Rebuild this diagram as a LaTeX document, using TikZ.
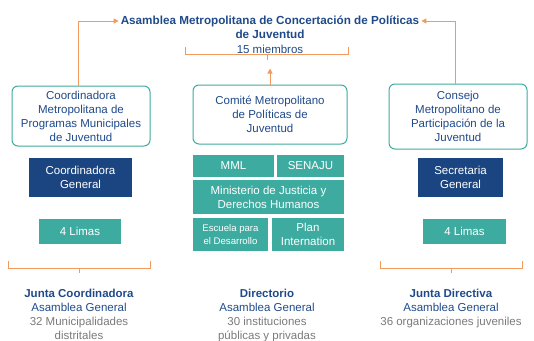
\documentclass[tikz,border=0pt]{standalone}
\usepackage{fontspec}
\setmainfont{Liberation Sans}
\usetikzlibrary{arrows.meta}
\definecolor{tealc}{HTML}{3DAB9F}
\definecolor{dblue}{HTML}{1B4580}
\definecolor{txtblue}{HTML}{1F4A8A}
\definecolor{orangec}{HTML}{F29A5E}
\definecolor{grayc}{HTML}{7A7A7A}
\begin{document}
\begin{tikzpicture}[x=1pt,y=-1pt,
  base/.style={inner sep=0pt, align=center, font=\fontsize{11.5}{14}\selectfont},
  outline/.style={base, draw=tealc, line width=1pt, rounded corners=6pt, fill=white, text=txtblue},
  darkbox/.style={base, fill=dblue, text=white},
  tealbox/.style={base, fill=tealc, text=white},
  oline/.style={draw=orangec, line width=1pt},
  arr/.style={oline, -{Triangle[length=5pt,width=5pt]}},
  lbl/.style={inner sep=0pt, align=center, text=txtblue, font=\fontsize{11.5}{14.3}\selectfont}
]
\useasboundingbox (0,0) rectangle (534,340);

% top title
\node[lbl, inner sep=2pt, font=\bfseries\fontsize{11.7}{14}\selectfont] (title1) at (270,21) {Asamblea Metropolitana de Concertación de Políticas};
\node[lbl, font=\bfseries\fontsize{11.7}{14}\selectfont] (title2) at (270,34) {de Juventud};
\node[lbl] (title3) at (270,49) {15 miembros};

% three main boxes
\node[outline, minimum width=138pt, minimum height=60pt] (left) at (81,116)
  {Coordinadora\\Metropolitana de\\Programas Municipales\\de Juventud};
\node[outline, minimum width=154pt, minimum height=59pt] (center) at (270,114.5)
  {Comité Metropolitano\\de Políticas de\\Juventud};
\node[outline, minimum width=138pt, minimum height=65pt] (right) at (458,116.5)
  {Consejo\\Metropolitano de\\Participación de la\\Juventud};

% left column
\node[darkbox, minimum width=103pt, minimum height=39pt] (coordgen) at (80.5,177.5) {Coordinadora\\General};
\node[tealbox, minimum width=82pt, minimum height=25pt] (limas1) at (80,231.5) {4 Limas};

% center column
\node[tealbox, minimum width=81pt, minimum height=22pt] (mml) at (233.5,166) {MML};
\node[tealbox, minimum width=67pt, minimum height=22pt] (senaju) at (310.5,166) {SENAJU};
\node[tealbox, minimum width=151pt, minimum height=34pt] (minis) at (268.5,197) {Ministerio de Justicia y\\Derechos Humanos};
\node[tealbox, minimum width=75pt, minimum height=33pt, font=\fontsize{9.6}{12.5}\selectfont] (escuela) at (230.5,234.5) {Escuela para\\el Desarrollo};
\node[tealbox, minimum width=72pt, minimum height=33pt] (plan) at (308,234.5) {Plan\\Internation};

% right column
\node[darkbox, minimum width=85pt, minimum height=39pt] (secgen) at (460.5,177.5) {Secretaria\\General};
\node[tealbox, minimum width=83pt, minimum height=25pt] (limas2) at (464.5,231.5) {4 Limas};

% arrows
\draw[arr] ([xshift=-3pt]left.north) |- (title1.west);
\draw[arr] ([xshift=-3pt]right.north) |- (title1.east);
\draw[arr] (center.north) -- ++(0,-16);

% brackets
\draw[oline] (185,47) -- (185,54) -- (348,54) -- (348,47);
\draw[oline] (267,54) -- (267,60);
\draw[oline] (8,261) -- (8,268) -- (150,268) -- (150,261);
\draw[oline] (79,268) -- (79,273);
\draw[oline] (380,261) -- (380,268) -- (522,268) -- (522,261);
\draw[oline] (451,268) -- (451,273);

% bottom texts
\node[lbl, anchor=north] (bl) at (79,288.5)
  {\textbf{Junta Coordinadora}\\Asamblea General\\\textcolor{grayc}{32 Municipalidades}\\\textcolor{grayc}{distritales}};
\node[lbl, anchor=north] (bc) at (267,288.5)
  {\textbf{Directorio}\\Asamblea General\\\textcolor{grayc}{30 instituciones}\\\textcolor{grayc}{públicas y privadas}};
\node[lbl, anchor=north] (br) at (451,288.5)
  {\textbf{Junta Directiva}\\Asamblea General\\\textcolor{grayc}{36 organizaciones juveniles}};
\end{tikzpicture}
\end{document}
